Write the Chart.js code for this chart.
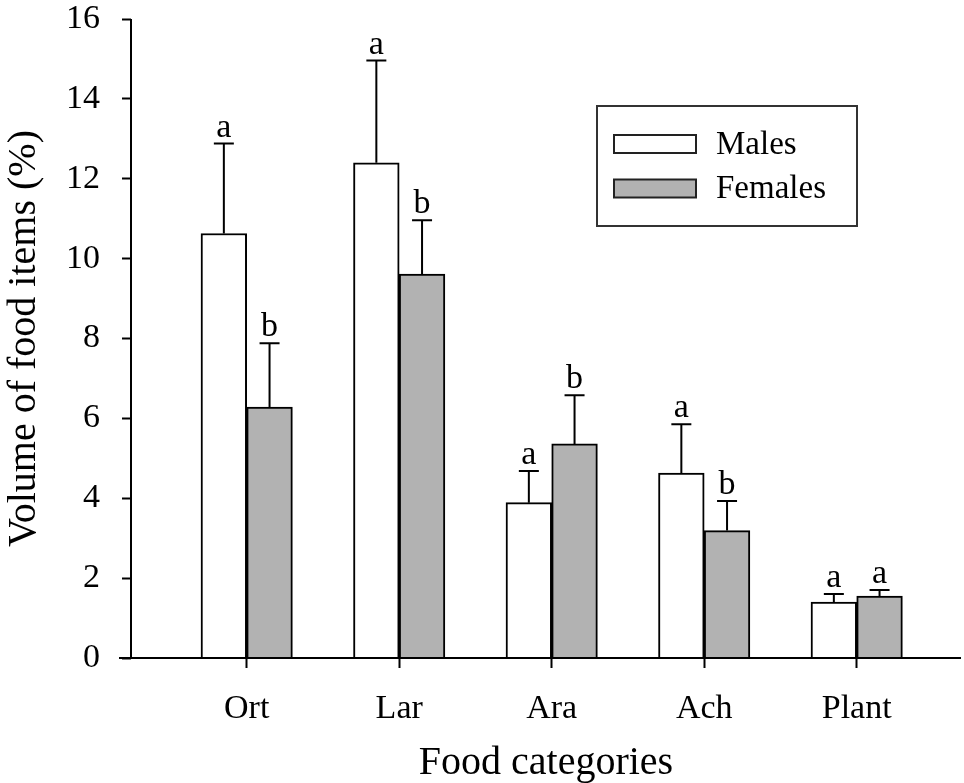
<!DOCTYPE html>
<html>
<head>
<meta charset="utf-8">
<script src="https://cdn.jsdelivr.net/npm/chart.js@4"></script>
<style>
html,body{margin:0;padding:0;background:#fff;}
#wrap{width:964px;height:783px;position:relative;}
</style>
</head>
<body>
<div id="wrap"><canvas id="c" width="964" height="783"></canvas></div>
<script>
// ---- data ----
const categories = ["Ort", "Lar", "Ara", "Ach", "Plant"];
const seriesNames = ["Males", "Females"];
const males = [10.63, 12.40, 3.89, 4.63, 1.40];
const malesSE = [2.25, 2.56, 0.79, 1.22, 0.20];
const females = [6.28, 9.61, 5.36, 3.19, 1.55];
const femalesSE = [1.60, 1.35, 1.22, 0.74, 0.15];
const malesLetters = ["a", "a", "a", "a", "a"];
const femalesLetters = ["b", "b", "b", "b", "a"];
const yTicks = [0, 2, 4, 6, 8, 10, 12, 14, 16];

const FONT = "'Liberation Serif', 'Times New Roman', serif";
const errs = [malesSE, femalesSE];
const letters = [malesLetters, femalesLetters];

const annotPlugin = {
  id: 'annot',
  afterDatasetsDraw(chart) {
    const ctx = chart.ctx;
    const ys = chart.scales.y;
    ctx.save();
    chart.data.datasets.forEach((ds, di) => {
      const meta = chart.getDatasetMeta(di);
      meta.data.forEach((bar, i) => {
        const top = ds.data[i].y + errs[di][i];
        const yTop = ys.getPixelForValue(top);
        ctx.strokeStyle = '#000';
        ctx.lineWidth = 2;
        ctx.beginPath();
        ctx.moveTo(bar.x, bar.y);
        ctx.lineTo(bar.x, yTop);
        ctx.moveTo(bar.x - 10, yTop);
        ctx.lineTo(bar.x + 10, yTop);
        ctx.stroke();
        ctx.fillStyle = '#000';
        ctx.font = "34px " + FONT;
        ctx.textAlign = 'center';
        ctx.textBaseline = 'alphabetic';
        ctx.fillText(letters[di][i], bar.x, yTop - 7);
      });
    });
    ctx.restore();
  },
  afterDraw(chart) {
    const ctx = chart.ctx;
    const a = chart.chartArea;
    const y0 = chart.scales.y.getPixelForValue(0);
    ctx.save();
    ctx.strokeStyle = '#000';
    ctx.lineWidth = 2;
    ctx.beginPath();
    ctx.moveTo(a.left - 12, y0);
    ctx.lineTo(a.right, y0);
    ctx.moveTo(a.left, a.top);
    ctx.lineTo(a.left, y0 + 1);
    ctx.stroke();
    // legend box
    ctx.strokeStyle = '#333';
    ctx.lineWidth = 2;
    ctx.strokeRect(597, 106, 260, 120);
    const rows = [144, 188.5];
    chart.data.datasets.forEach((ds, di) => {
      ctx.fillStyle = ds.backgroundColor;
      ctx.fillRect(614, rows[di] - 9, 82, 18);
      ctx.strokeStyle = '#222';
      ctx.lineWidth = 2;
      ctx.strokeRect(614, rows[di] - 9, 82, 18);
      ctx.fillStyle = '#000';
      ctx.font = "33px " + FONT;
      ctx.textAlign = 'left';
      ctx.textBaseline = 'middle';
      ctx.fillText(ds.label, 716, rows[di] + 1);
    });
    ctx.restore();
  }
};

const unit = 152.5;
const firstPx = 246.7, leftPx = 131, rightPx = 961;
const xMin = 1 - (firstPx - leftPx) / unit;
const xMax = 1 + (rightPx - firstPx) / unit;

new Chart(document.getElementById('c'), {
  type: 'bar',
  data: {
    datasets: [
      {
        label: seriesNames[0],
        data: categories.map((c, i) => ({ x: i + 1, y: males[i] })),
        backgroundColor: '#ffffff',
        borderColor: '#000',
        borderWidth: 2,
        barThickness: 45.7
      },
      {
        label: seriesNames[1],
        data: categories.map((c, i) => ({ x: i + 1, y: females[i] })),
        backgroundColor: '#b2b2b2',
        borderColor: '#000',
        borderWidth: 2,
        barThickness: 45.7
      }
    ]
  },
  options: {
    responsive: false,
    animation: false,
    devicePixelRatio: 1,
    layout: { padding: { left: 0, right: 964 - rightPx, top: 19, bottom: 0 } },
    plugins: { legend: { display: false }, tooltip: { enabled: false } },
    scales: {
      x: {
        type: 'linear',
        offset: false,
        min: xMin,
        max: xMax,
        afterBuildTicks: (s) => { s.ticks = categories.map((c, i) => ({ value: i + 1 })); },
        afterFit: (s) => { s.height = 783 - 658; s.paddingLeft = 0; s.paddingRight = 0; },
        border: { display: false },
        grid: { display: true, offset: false, drawOnChartArea: false, drawTicks: true, tickLength: 10, tickWidth: 2, tickColor: '#000' },
        ticks: {
          autoSkip: false,
          maxRotation: 0,
          padding: 21,
          color: '#000',
          font: { family: FONT, size: 34 },
          callback: (v) => categories[Math.round(v) - 1] || ''
        },
        title: {
          display: true,
          text: 'Food categories',
          color: '#000',
          font: { family: FONT, size: 40, lineHeight: 1.0 },
          padding: { top: 0, bottom: 0 }
        }
      },
      y: {
        min: 0,
        max: 16,
        afterBuildTicks: (s) => { s.ticks = yTicks.map(v => ({ value: v })); },
        afterFit: (s) => { s.width = leftPx; s.paddingTop = 0; s.paddingBottom = 0; },
        border: { display: false },
        grid: { display: true, drawOnChartArea: false, drawTicks: true, tickLength: 9, tickWidth: 2, tickColor: '#000' },
        ticks: {
          padding: 22,
          color: '#000',
          font: { family: FONT, size: 34 }
        },
        title: {
          display: true,
          text: 'Volume of food items (%)',
          color: '#000',
          font: { family: FONT, size: 40, lineHeight: 1.0 },
          padding: { top: 4, bottom: 0 }
        }
      }
    }
  },
  plugins: [annotPlugin]
});
</script>
</body>
</html>
